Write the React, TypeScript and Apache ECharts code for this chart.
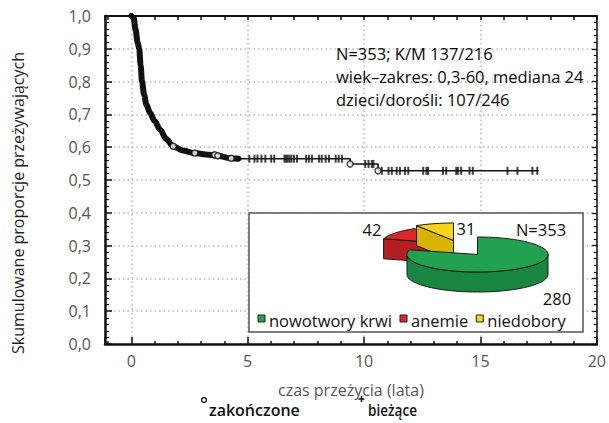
import React, { useEffect, useRef } from 'react';
import * as echarts from 'echarts';

// ---------- data ----------
const xTickLabels = ['0', '5', '10', '15', '20'];
const kmEarlyT = [0, 0.1, 0.18, 0.27, 0.34, 0.4, 0.46, 0.55, 0.65, 0.8, 1.0, 1.24, 1.5, 1.8, 2.2, 2.73, 3.2, 3.72, 4.29, 4.6];
const kmEarlyS = [1.0, 0.995, 0.96, 0.92, 0.9, 0.85, 0.8, 0.76, 0.73, 0.705, 0.68, 0.653, 0.625, 0.603, 0.59, 0.582, 0.578, 0.574, 0.566, 0.565];
const kmLateT = [4.6, 9.4, 10.6, 17.5];
const kmLateS = [0.565, 0.549, 0.528, 0.528];
const eventT = [1.8, 2.73, 3.58, 3.72, 4.29, 9.4, 10.6];
const eventS = [0.603, 0.582, 0.577, 0.574, 0.566, 0.549, 0.528];
const censorT = [
  5.07, 5.29, 5.42, 5.59, 5.76, 6.01, 6.14, 6.58, 6.65, 6.72, 6.8, 6.88, 6.99, 7.12, 7.51, 7.63, 7.76,
  8.06, 8.18, 8.35, 8.49, 8.78, 8.91, 9.05,
  10.05, 10.19, 10.33, 10.4,
  10.76, 11.05, 11.19, 11.4, 11.54, 11.76, 11.9, 12.54, 12.68, 12.75, 13.39, 13.53, 13.96, 14.03, 14.17,
  14.53, 14.67, 16.16, 16.59, 17.23, 17.44,
];
const pieNames = ['nowotwory krwi', 'anemie', 'niedobory'];
const pieValues = [280, 42, 31];
const annotationLines = ['N=353; K/M 137/216', 'wiek–zakres: 0,3-60, mediana 24', 'dzieci/dorośli: 107/246'];
const xAxisTitle = 'czas przeżycia (lata)';
const yAxisTitle = 'Skumulowane proporcje przeżywających';
const legendLabels = ['zakończone', 'bieżące'];

// ---------- styling / layout ----------
const FONT = "'Open Sans', 'Noto Sans', sans-serif";
const PIE = { cx: 477.5, cy: 254.5, rx: 70.5, ry: 17.5, depth: 20 };
const pieOffsets = [[0, 0], [-26, -11], [-24, -14]];
const pieTop = ['#22a150', '#d9272b', '#f7d417'];
const pieSide = ['#168640', '#b41d21', '#d8b402'];
const pieDrawOrder = [3, 1, 2];
const pieLabelPos = [[557, 298], [372, 229], [466, 228]];
const INSET_LEGEND_FONT = `16.5px ${FONT}`;

function survivalAt(t: number) {
  let s = kmLateS[0];
  for (let i = 0; i < kmLateT.length; i++) if (kmLateT[i] <= t) s = kmLateS[i];
  return s;
}

function measure(text: string, font: string) {
  const ctx = document.createElement('canvas').getContext('2d');
  if (!ctx) return text.length * 8;
  ctx.font = font;
  return ctx.measureText(text).width;
}

const rad = (a: number) => (a * Math.PI) / 180;

function renderSlice(params: any) {
  const i = params.dataIndex;
  const total = pieValues.reduce((a, b) => a + b, 0);
  let before = 0;
  for (let k = 0; k < i; k++) before += pieValues[k];
  const aEnd = 90 - (before / total) * 360;
  const aStart = aEnd - (pieValues[i] / total) * 360;
  const cx = PIE.cx + pieOffsets[i][0];
  const cy = PIE.cy + pieOffsets[i][1];
  const d = PIE.depth;
  const pt = (a: number, dy = 0) => [cx + PIE.rx * Math.cos(rad(a)), cy - PIE.ry * Math.sin(rad(a)) + dy];
  const arc = (a0: number, a1: number, dy: number) => {
    const n = Math.max(2, Math.ceil(Math.abs(a1 - a0) / 3));
    const pts: number[][] = [];
    for (let j = 0; j <= n; j++) pts.push(pt(a0 + ((a1 - a0) * j) / n, dy));
    return pts;
  };
  const z2 = pieDrawOrder[i] * 10;
  const stroke = { stroke: '#1a1a1a', lineWidth: 1, lineJoin: 'round' };
  const children: any[] = [];
  const radial = (a: number) => ({
    type: 'polygon',
    z2: z2 + 1,
    shape: { points: [[cx, cy], pt(a), pt(a, d), [cx, cy + d]] },
    style: { fill: pieSide[i], ...stroke },
  });
  if (Math.sin(rad(aStart - 90)) < -0.02) children.push(radial(aStart));
  if (Math.sin(rad(aEnd + 90)) < -0.02) children.push(radial(aEnd));
  for (let k = -2; k <= 2; k++) {
    const lo = Math.max(aStart, 360 * k - 180);
    const hi = Math.min(aEnd, 360 * k);
    if (hi > lo) {
      children.push({
        type: 'polygon',
        z2: z2 + 2,
        shape: { points: arc(lo, hi, 0).concat(arc(hi, lo, d)) },
        style: { fill: pieSide[i], ...stroke },
      });
    }
  }
  children.push({
    type: 'polygon',
    z2: z2 + 5,
    shape: { points: [[cx, cy]].concat(arc(aStart, aEnd, 0)) },
    style: { fill: pieTop[i], ...stroke },
  });
  return { type: 'group', children };
}

export default function App() {
  const ref = useRef<HTMLDivElement>(null);
  useEffect(() => {
    if (!ref.current) return;
    const chart = echarts.init(ref.current, null, { renderer: 'svg' });
    const dotted = { color: '#b8b8b8', width: 1.5, type: [1.5, 3] as any };
    const total = pieValues.reduce((a, b) => a + b, 0);

    // inset legend layout, laid out sequentially
    const legendItems: any[] = [];
    let lx = 258;
    pieNames.forEach((name, k) => {
      legendItems.push({
        type: 'rect', z: 10, shape: { x: lx, y: 315, width: 7, height: 7 },
        style: { fill: pieTop[k], stroke: '#222', lineWidth: 1 },
      });
      lx += 11;
      legendItems.push({
        type: 'text', x: lx, y: 320, z: 10,
        style: { text: name, font: INSET_LEGEND_FONT, fill: '#111', align: 'left', verticalAlign: 'middle' },
      });
      lx += measure(name, INSET_LEGEND_FONT) + 8;
    });

    const graphic: any[] = [
      // y-axis title
      {
        type: 'text', x: 18, y: 203, rotation: Math.PI / 2, z: 10,
        style: { text: yAxisTitle, font: `16px ${FONT}`, fill: '#1e1e1e', align: 'center', verticalAlign: 'middle' },
      },
      // annotation
      ...annotationLines.map((t, k) => ({
        type: 'text', x: 336, y: 53 + k * 23, z: 10,
        style: { text: t, font: `16.5px ${FONT}`, fill: '#0a0a0a', align: 'left', verticalAlign: 'middle' },
      })),
      // inset box
      {
        type: 'rect', z: 1, shape: { x: 249, y: 213, width: 334, height: 119 },
        style: { fill: '#fff', stroke: '#555', lineWidth: 1.5 },
      },
      // pie labels
      ...pieValues.map((v, k) => ({
        type: 'text', x: pieLabelPos[k][0], y: pieLabelPos[k][1], z: 10,
        style: { text: String(v), font: `16.5px ${FONT}`, fill: '#111', align: 'center', verticalAlign: 'middle' },
      })),
      {
        type: 'text', x: 541, y: 229, z: 10,
        style: { text: 'N=' + total, font: `16.5px ${FONT}`, fill: '#111', align: 'center', verticalAlign: 'middle' },
      },
      ...legendItems,
      // bottom legend
      {
        type: 'circle', z: 10, shape: { cx: 204, cy: 400, r: 2.4 },
        style: { fill: '#fff', stroke: '#111', lineWidth: 1.3 },
      },
      {
        type: 'text', x: 209, y: 410, z: 10,
        style: { text: legendLabels[0], font: `600 16px ${FONT}`, fill: '#111', align: 'left', verticalAlign: 'middle' },
      },
      {
        type: 'line', z: 10, shape: { x1: 358.5, y1: 399, x2: 364.5, y2: 399 },
        style: { stroke: '#111', lineWidth: 1.5 },
      },
      {
        type: 'line', z: 10, shape: { x1: 361.5, y1: 396, x2: 361.5, y2: 402 },
        style: { stroke: '#111', lineWidth: 1.5 },
      },
      {
        type: 'text', x: 368, y: 410, z: 10, scaleX: 0.85,
        style: { text: legendLabels[1], font: `600 16px ${FONT}`, fill: '#111', align: 'left', verticalAlign: 'middle' },
      },
    ];

    chart.setOption({
      animation: false,
      backgroundColor: '#fff',
      textStyle: { fontFamily: FONT },
      grid: { left: 105, right: 8, top: 16, bottom: 79, containLabel: false },
      xAxis: [
        {
          type: 'value', position: 'bottom', min: -1.13, max: 20, splitNumber: 5,
          name: xAxisTitle, nameLocation: 'middle', nameGap: 38,
          nameTextStyle: { fontSize: 16, color: '#555', fontFamily: FONT },
          axisLine: { show: true, onZero: false, lineStyle: { color: '#111', width: 2.5 } },
          axisTick: { show: true, inside: true, length: 7, lineStyle: { color: '#111', width: 1.5 } },
          minorTick: { show: true, splitNumber: 5, length: 3, lineStyle: { color: '#111', width: 1.5 } },
          axisLabel: {
            color: '#555', fontSize: 16, margin: 9, fontFamily: FONT,
            formatter: (v: number) => {
              const idx = xTickLabels.indexOf(String(Math.round(v)));
              return v >= 0 && Math.abs(v - Math.round(v)) < 1e-6 && idx >= 0 ? xTickLabels[idx] : '';
            },
          },
          splitLine: { show: true, lineStyle: dotted },
        },
        {
          type: 'value', position: 'top', min: -1.13, max: 20, splitNumber: 21,
          axisLine: { show: true, onZero: false, lineStyle: { color: '#111', width: 2 } },
          axisTick: { show: true, inside: true, length: 4, lineStyle: { color: '#111', width: 1.5 } },
          axisLabel: { show: false },
          splitLine: { show: false },
        },
      ],
      yAxis: [
        {
          type: 'value', position: 'left', min: 0, max: 1, interval: 0.1,
          axisLine: { show: true, onZero: false, lineStyle: { color: '#111', width: 2.5 } },
          axisTick: { show: true, inside: true, length: 7, lineStyle: { color: '#111', width: 1.5 } },
          minorTick: { show: true, splitNumber: 5, length: 4, lineStyle: { color: '#111', width: 1.2 } },
          axisLabel: {
            color: '#555', fontSize: 16, margin: 14, fontFamily: FONT,
            formatter: (v: number) => v.toFixed(1).replace('.', ','),
          },
          splitLine: { show: true, lineStyle: dotted },
        },
        {
          type: 'value', position: 'right', min: 0, max: 1, interval: 0.1,
          axisLine: { show: true, onZero: false, lineStyle: { color: '#111', width: 1.5 } },
          axisTick: { show: true, inside: true, length: 5, lineStyle: { color: '#111', width: 1.3 } },
          minorTick: { show: true, splitNumber: 5, length: 3, lineStyle: { color: '#111', width: 1.2 } },
          axisLabel: { show: false },
          splitLine: { show: false },
        },
      ],
      series: [
        {
          type: 'line', xAxisIndex: 0, yAxisIndex: 0, showSymbol: false, smooth: 0.3, smoothMonotone: 'x',
          data: kmEarlyT.map((t, k) => [t, kmEarlyS[k]]),
          lineStyle: { color: '#111', width: 6, cap: 'round', join: 'round' }, z: 3,
        },
        {
          type: 'line', xAxisIndex: 0, yAxisIndex: 0, showSymbol: false, step: 'end',
          data: kmLateT.map((t, k) => [t, kmLateS[k]]),
          lineStyle: { color: '#111', width: 1.6 }, z: 3,
        },
        {
          type: 'scatter', xAxisIndex: 0, yAxisIndex: 0, symbol: 'rect', symbolSize: [2, 8],
          data: censorT.map((t) => [t, survivalAt(t)]),
          itemStyle: { color: '#111' }, z: 4,
        },
        {
          type: 'scatter', xAxisIndex: 0, yAxisIndex: 0, symbol: 'circle', symbolSize: 6,
          data: eventT.map((t, k) => [t, eventS[k]]),
          itemStyle: { color: '#fff', borderColor: '#111', borderWidth: 1.4 }, z: 5,
        },
        {
          type: 'custom', coordinateSystem: 'none', z: 6,
          data: pieValues.map((v, k) => ({ name: pieNames[k], value: v })),
          renderItem: (params: any) => renderSlice(params),
        },
      ],
      graphic,
    });
    return () => chart.dispose();
  }, []);
  return <div ref={ref} style={{ width: 609, height: 423, position: 'absolute', left: 0, top: 0 }} />;
}
